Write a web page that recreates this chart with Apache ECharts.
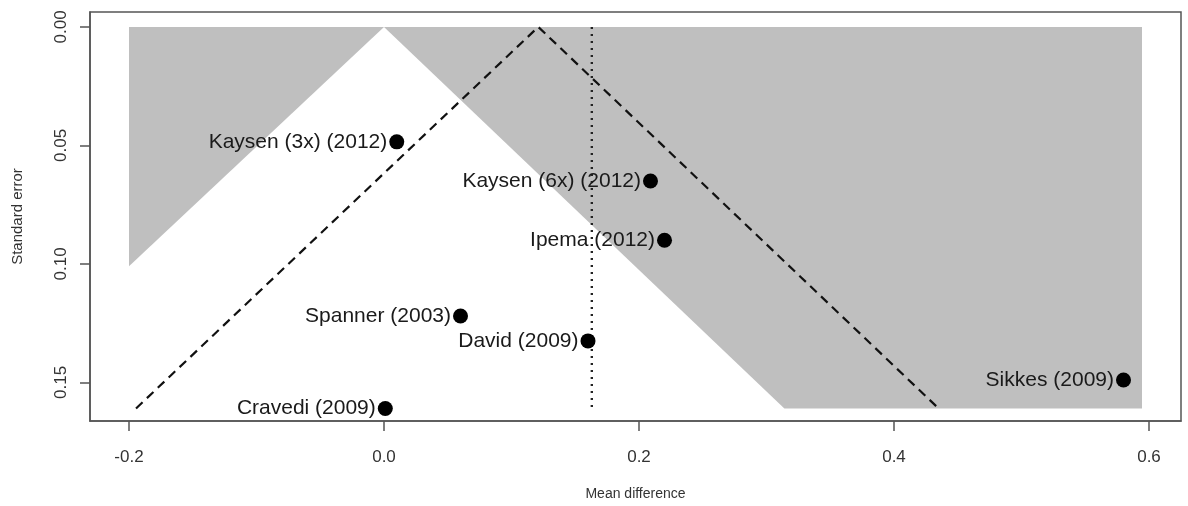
<!DOCTYPE html>
<html>
<head>
<meta charset="utf-8">
<script src="https://cdn.jsdelivr.net/npm/echarts@6/dist/echarts.min.js"></script>
<style>
  html, body { margin: 0; padding: 0; background: #fff; }
  #chart { width: 1188px; height: 506px; }
</style>
</head>
<body>
<div id="chart"></div>
<script>
// study estimates
const studies = ["Kaysen (3x) (2012)", "Kaysen (6x) (2012)", "Ipema (2012)", "Spanner (2003)", "David (2009)", "Cravedi (2009)", "Sikkes (2009)"]
const meanDiff = [0.010, 0.209, 0.220, 0.060, 0.160, 0.001, 0.580]
const stdError = [0.0485, 0.065, 0.090, 0.122, 0.1325, 0.161, 0.149]

// shaded significance region (outside the white 95% funnel around 0)
const greyLeft = [[-0.2, 0], [0, 0], [-0.2, 0.101]]
const greyRight = [[0, 0], [0.5945, 0], [0.5945, 0.161], [0.314, 0.161]]
const greyRegions = [greyLeft, greyRight]

// pseudo-confidence funnel around the pooled estimate, and the reference line
const funnelX = [-0.1945, 0.121, 0.435]
const funnelY = [0.161, 0, 0.161]
const refX = [0.163, 0.163]
const refY = [0, 0.161]

const xTicks = [-0.2, 0, 0.2, 0.4, 0.6]
const yTicks = [0, 0.05, 0.1, 0.15]

const font = "'Liberation Sans', Arial, sans-serif"
const chart = echarts.init(document.getElementById("chart"))

const option = {
  animation: false,
  grid: {
    left: 90,
    right: 7,
    top: 12,
    bottom: 81,
    show: true,
    borderColor: "#555",
    borderWidth: 1.5,
  },
  xAxis: {
    type: "value",
    min: -0.2306,
    max: 0.6251,
    name: "Mean difference",
    nameLocation: "middle",
    nameGap: 66,
    nameTextStyle: { color: "#333", fontSize: 14, fontFamily: font },
    axisLine: { show: true, onZero: false, lineStyle: { color: "#555", width: 1.5 } },
    axisTick: { show: true, customValues: xTicks, length: 10, lineStyle: { color: "#555", width: 1.5 } },
    axisLabel: {
      customValues: xTicks,
      margin: 28,
      color: "#333",
      fontSize: 17,
      fontFamily: font,
      formatter: (v) => v.toFixed(1),
    },
    splitLine: { show: false },
  },
  yAxis: {
    type: "value",
    inverse: true,
    min: -0.0063,
    max: 0.1663,
    name: "Standard error",
    nameLocation: "middle",
    nameGap: 65,
    nameTextStyle: { color: "#333", fontSize: 15, fontFamily: font },
    axisLine: { show: true, onZero: false, lineStyle: { color: "#555", width: 1.5 } },
    axisTick: { show: true, customValues: yTicks, length: 10, lineStyle: { color: "#555", width: 1.5 } },
    axisLabel: {
      customValues: yTicks,
      rotate: 90,
      margin: 20,
      color: "#333",
      fontSize: 17,
      fontFamily: font,
      formatter: (v) => v.toFixed(2),
    },
    splitLine: { show: false },
  },
  series: [
    {
      type: "custom",
      silent: true,
      z: 1,
      data: greyRegions.map((poly) => poly[0]),
      renderItem: (params, api) => {
        const poly = greyRegions[params.dataIndex]
        return {
          type: "polygon",
          shape: { points: poly.map((p) => api.coord(p)) },
          style: { fill: "#bfbfbf" },
        }
      },
    },
    {
      type: "line",
      silent: true,
      z: 2,
      symbol: "none",
      data: funnelX.map((x, i) => [x, funnelY[i]]),
      lineStyle: { color: "#111", width: 2.2, type: [9, 6] },
    },
    {
      type: "line",
      silent: true,
      z: 2,
      symbol: "none",
      data: refX.map((x, i) => [x, refY[i]]),
      lineStyle: { color: "#222", width: 2.4, type: [2, 5] },
    },
    {
      type: "scatter",
      z: 3,
      symbol: "circle",
      symbolSize: 15,
      itemStyle: { color: "#000", opacity: 1 },
      data: studies.map((name, i) => ({ name, value: [meanDiff[i], stdError[i]] })),
      label: {
        show: true,
        position: "left",
        distance: 2,
        formatter: "{b}",
        color: "#1a1a1a",
        fontSize: 21,
        fontFamily: font,
      },
    },
  ],
}

chart.setOption(option)
</script>
</body>
</html>
